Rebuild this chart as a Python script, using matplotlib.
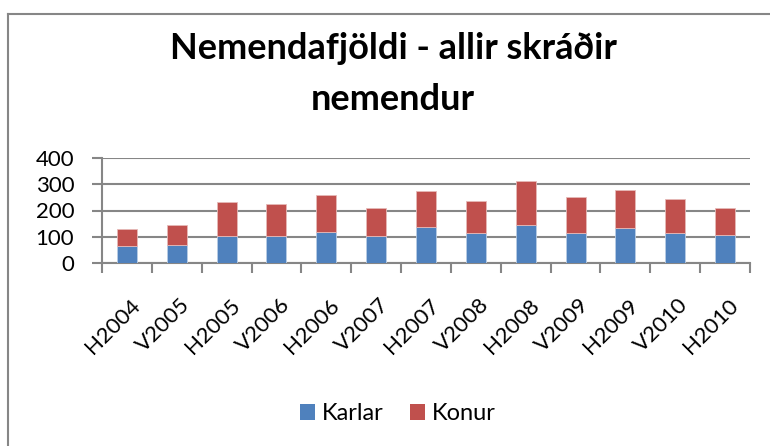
import matplotlib
matplotlib.use("Agg")
import matplotlib.pyplot as plt
import matplotlib.transforms as mtransforms
from matplotlib.lines import Line2D
from matplotlib.patches import Patch
import numpy as np

terms = ["H2004", "V2005", "H2005", "V2006", "H2006", "V2007", "H2007",
         "V2008", "H2008", "V2009", "H2009", "V2010", "H2010"]
karlar = [63, 69, 101, 101, 117, 101, 136, 116, 145, 114, 133, 115, 106]
konur = [67, 76, 131, 122, 142, 109, 139, 119, 166, 139, 147, 127, 105]
yticks = [0, 100, 200, 300, 400]

BLUE = "#4F81BD"
RED = "#C0504D"
GRID = "#868686"

plt.rcParams['font.family'] = ['Lato', 'DejaVu Sans']

fig = plt.figure(figsize=(7.7, 4.46), dpi=100)
ax = fig.add_axes([102 / 770, 1 - 263 / 446, 648 / 770, 105 / 446])

x = np.arange(len(terms))
ax.bar(x, karlar, width=0.4, color=BLUE, edgecolor="#B9CDE5", linewidth=0.6,
       zorder=3)
ax.bar(x, konur, width=0.4, bottom=karlar, color=RED, edgecolor="#E6B9B8",
       linewidth=0.6, zorder=3)

ax.set_xlim(-0.5, len(terms) - 0.5)
ax.set_ylim(0, 400)
ax.set_yticks(yticks)
ax.set_yticklabels([str(v) for v in yticks], fontsize=16)
ax.yaxis.grid(True, color=GRID, linewidth=1.5, zorder=0)
ax.set_axisbelow(True)

ax.set_xticks(np.arange(len(terms) + 1) - 0.5)
ax.set_xticklabels([])
ax.set_xticks(x, minor=True)
ax.set_xticklabels(terms, minor=True, rotation=45, ha="right",
                   rotation_mode="anchor", fontsize=16)
ax.tick_params(axis="x", which="minor", length=0, pad=23)
ax.tick_params(axis="x", which="major", length=7, width=1.5, color=GRID,
               direction="out")
ax.tick_params(axis="y", length=7, width=1.5, color=GRID, direction="out",
               pad=13)
shift = mtransforms.ScaledTranslation(3 / 100, 0, fig.dpi_scale_trans)
for lbl in ax.get_xticklabels(minor=True):
    lbl.set_transform(lbl.get_transform() + shift)

for side in ["top", "right"]:
    ax.spines[side].set_visible(False)
for side in ["left", "bottom"]:
    ax.spines[side].set_color(GRID)
    ax.spines[side].set_linewidth(1.5)

fig.text(393 / 770, 1 - 59 / 446, "Nemendafjöldi - allir skráðir",
         ha="center", va="baseline", fontsize=26, fontweight="bold")
fig.text(393 / 770, 1 - 110 / 446, "nemendur",
         ha="center", va="baseline", fontsize=26, fontweight="bold")

handles = [Patch(facecolor=BLUE, label="Karlar"),
           Patch(facecolor=RED, label="Konur")]
fig.legend(handles=handles, loc="center", ncol=2, frameon=False,
           bbox_to_anchor=(398 / 770, 1 - 414 / 446), fontsize=17,
           handlelength=0.65, handleheight=0.65, handletextpad=0.3,
           columnspacing=1.1)

# outer chart frame (top and left edge visible)
fig.add_artist(Line2D([8 / 770, 1], [1 - 14 / 446, 1 - 14 / 446],
                      transform=fig.transFigure, color=GRID, linewidth=1.5))
fig.add_artist(Line2D([8 / 770, 8 / 770], [0, 1 - 14 / 446],
                      transform=fig.transFigure, color=GRID, linewidth=1.5))

fig.savefig("out.png", dpi=100)
